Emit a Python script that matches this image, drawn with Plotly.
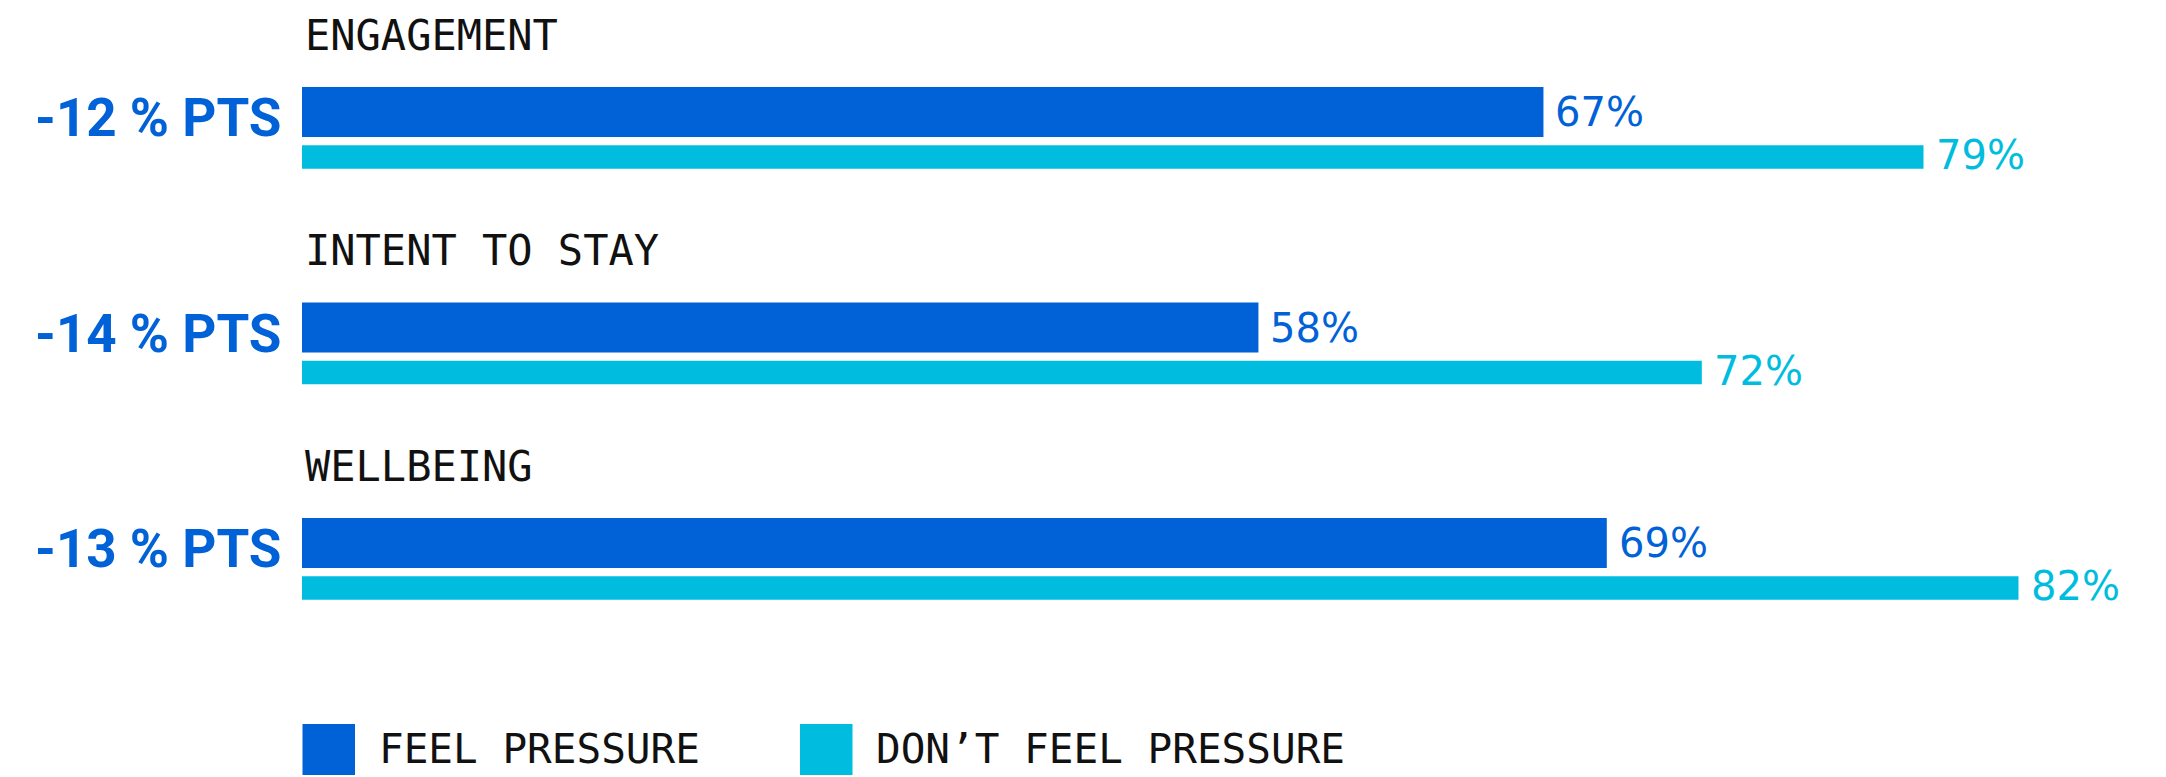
import plotly.graph_objects as go

# ---- data ----
categories = ["ENGAGEMENT", "INTENT TO STAY", "WELLBEING"]
feel_pressure = [67, 58, 69]
dont_feel_pressure = [79, 72, 82]
series_names = ["FEEL PRESSURE", "DON\u2019T FEEL PRESSURE"]

# ---- style / geometry ----
W, H = 2166, 777
L = 302
DARK = "#0062D6"
CYAN = "#00BDE0"
MONO = "DejaVu Sans Mono"
X0 = 27.8
PX_PER_PCT = 31.67
X1 = X0 + (W - L) / PX_PER_PCT
UNIT = 215.5                      # px per category step
LIGHT_OFF = 45 / UNIT
Y_TOP = -112 / UNIT
Y_BOT = Y_TOP + H / UNIT

pos = list(range(len(categories)))
pos_light = [p + LIGHT_OFF for p in pos]

fig = go.Figure()
fig.add_trace(go.Bar(
    y=pos, x=feel_pressure, orientation="h", width=50 / UNIT,
    marker=dict(color=DARK, line=dict(width=0)), name=series_names[0],
    showlegend=False, hoverinfo="skip"))
fig.add_trace(go.Bar(
    y=pos_light, x=dont_feel_pressure, orientation="h", width=23.5 / UNIT,
    marker=dict(color=CYAN, line=dict(width=0)), name=series_names[1],
    showlegend=False, hoverinfo="skip"))

ann = []
for i, cat in enumerate(categories):
    # category title
    ann.append(dict(x=0, xref="paper", y=pos[i] - 77 / UNIT, yref="y",
                    text=cat, showarrow=False, xanchor="left", yanchor="middle",
                    xshift=1, font=dict(family=MONO, size=42, color="#111111")))
    # difference label
    diff = feel_pressure[i] - dont_feel_pressure[i]
    ann.append(dict(x=0, xref="paper", y=pos[i] + 6 / UNIT, yref="y",
                    text=f"{diff} % PTS", showarrow=False, xanchor="right",
                    yanchor="middle", xshift=-19,
                    font=dict(family="Roboto", size=53, color=DARK, weight="bold")))
    # value labels
    ann.append(dict(x=feel_pressure[i], xref="x", y=pos[i], yref="y",
                    text=f"{feel_pressure[i]}%", showarrow=False, xanchor="left",
                    yanchor="middle", xshift=10,
                    font=dict(family="DejaVu Sans", size=40, color=DARK)))
    ann.append(dict(x=dont_feel_pressure[i], xref="x", y=pos_light[i] - 2 / UNIT, yref="y",
                    text=f"{dont_feel_pressure[i]}%", showarrow=False, xanchor="left",
                    yanchor="middle", xshift=10,
                    font=dict(family="DejaVu Sans", size=40, color=CYAN)))

# ---- legend (drawn manually, large squares) ----
def px(xp):
    return (xp - L) / (W - L)

def py(yp):
    return 1 - yp / H

shapes = []
legend_items = [(series_names[0], DARK, 302.5, 377), (series_names[1], CYAN, 800, 874)]
for name, col, sx, tx in legend_items:
    shapes.append(dict(type="rect", xref="paper", yref="paper",
                       x0=px(sx), x1=px(sx + 52.5), y0=py(775), y1=py(724),
                       fillcolor=col, line=dict(width=0)))
    ann.append(dict(x=px(tx), xref="paper", y=py(749), yref="paper", text=name,
                    showarrow=False, xanchor="left", yanchor="middle",
                    font=dict(family=MONO, size=41, color="#111111")))

fig.update_layout(
    width=W, height=H, autosize=False,
    margin=dict(l=L, r=0, t=0, b=0, pad=0),
    paper_bgcolor="white", plot_bgcolor="white",
    barmode="overlay",
    xaxis=dict(range=[X0, X1], visible=False, fixedrange=True),
    yaxis=dict(range=[Y_BOT, Y_TOP], visible=False, fixedrange=True),
    annotations=ann, shapes=shapes, showlegend=False,
)

fig.write_html("out.html", config={"displayModeBar": False})
